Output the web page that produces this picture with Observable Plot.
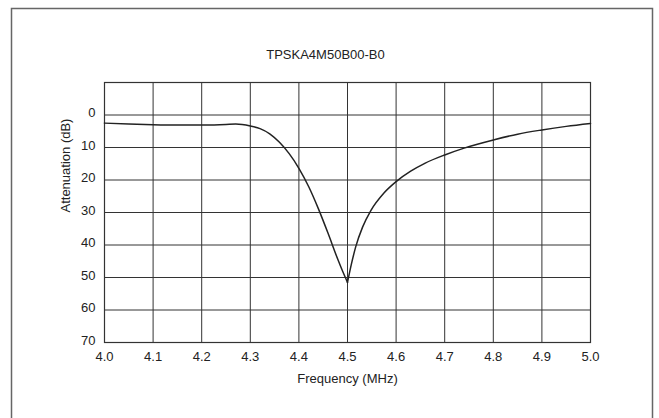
<!DOCTYPE html>
<html>
<head>
<meta charset="utf-8">
<script src="https://cdn.jsdelivr.net/npm/d3@7"></script>
<script src="https://cdn.jsdelivr.net/npm/@observablehq/plot@0.6"></script>
<style>
  html, body { margin: 0; padding: 0; background: #fff; }
  #chart { width: 659px; height: 418px; }
</style>
</head>
<body>
<div id="chart"></div>
<script>
const titleText = "TPSKA4M50B00-B0";
const xLabel = "Frequency (MHz)";
const yLabel = "Attenuation (dB)";

// lower-frequency side of the notch (up to the 4.5 MHz minimum)
const freqLow = [4.0, 4.05, 4.1, 4.15, 4.2, 4.25, 4.27, 4.3, 4.32, 4.34, 4.36, 4.38, 4.4, 4.42, 4.44, 4.46, 4.48, 4.49, 4.5];
const attenLow = [2.5, 2.8, 3.0, 3.1, 3.1, 2.9, 2.8, 3.4, 4.2, 5.8, 8.4, 11.9, 16.4, 22.0, 28.8, 36.4, 44.4, 48.1, 51.5];
// higher-frequency side of the notch (from the 4.5 MHz minimum)
const freqHigh = [4.5, 4.508, 4.517, 4.531, 4.548, 4.575, 4.6, 4.63, 4.66, 4.7, 4.74, 4.8, 4.85, 4.9, 4.95, 5.0];
const attenHigh = [51.5, 45.9, 40.5, 34.5, 29.4, 24.0, 20.5, 17.3, 14.8, 12.3, 10.2, 7.7, 5.9, 4.6, 3.5, 2.6];

const xTicks = [4.0, 4.1, 4.2, 4.3, 4.4, 4.5, 4.6, 4.7, 4.8, 4.9, 5.0];
const yGrid = [-10, 0, 10, 20, 30, 40, 50, 60, 70];
const yTicks = [0, 10, 20, 30, 40, 50, 60, 70];

const curve = [
  ...freqLow.map((f, i) => ({f, a: attenLow[i], side: "low"})),
  ...freqHigh.map((f, i) => ({f, a: attenHigh[i], side: "high"}))
];
const font = "Liberation Sans, Arial, Helvetica, sans-serif";
const gridColor = "#333";

const chart = Plot.plot({
  width: 659,
  height: 418,
  marginLeft: 104,
  marginRight: 69,
  marginTop: 82,
  marginBottom: 76,
  style: {fontFamily: font, fontSize: "13px", color: "#222", background: "#fff"},
  x: {domain: [4.0, 5.0]},
  y: {domain: [-10, 70], reverse: true},
  marks: [
    Plot.gridX(xTicks, {stroke: gridColor, strokeOpacity: 1, strokeWidth: 1}),
    Plot.gridY(yGrid, {stroke: gridColor, strokeOpacity: 1, strokeWidth: 1}),
    Plot.frame({stroke: gridColor, strokeWidth: 1.2}),
    Plot.axisX(xTicks, {tickSize: 0, tickPadding: 9, tickFormat: d3.format(".1f"), label: null, fontSize: 13, fill: "#222"}),
    Plot.axisY(yTicks, {tickSize: 0, tickPadding: 9, label: null, fontSize: 13, fill: "#222", dy: -2}),
    Plot.line(curve, {x: "f", y: "a", z: "side", stroke: "#222", strokeWidth: 1.5, curve: "monotone-x"}),
    Plot.text([titleText], {text: d => d, frameAnchor: "top", dy: -28, dx: -22, lineAnchor: "middle", fontSize: 13, fill: "#222"}),
    Plot.text([xLabel], {text: d => d, frameAnchor: "bottom", dy: 36, lineAnchor: "middle", fontSize: 13, fill: "#222"}),
    Plot.text([yLabel], {text: d => d, frameAnchor: "left", dx: -39, rotate: -90, lineAnchor: "middle", fontSize: 13, fill: "#222"})
  ]
});

d3.select(chart).append("path")
  .attr("d", "M11.5,418 V8.5 H652.5 V418")
  .attr("fill", "none")
  .attr("stroke", "#666")
  .attr("stroke-width", 1.5);

document.getElementById("chart").appendChild(chart);
</script>
</body>
</html>
